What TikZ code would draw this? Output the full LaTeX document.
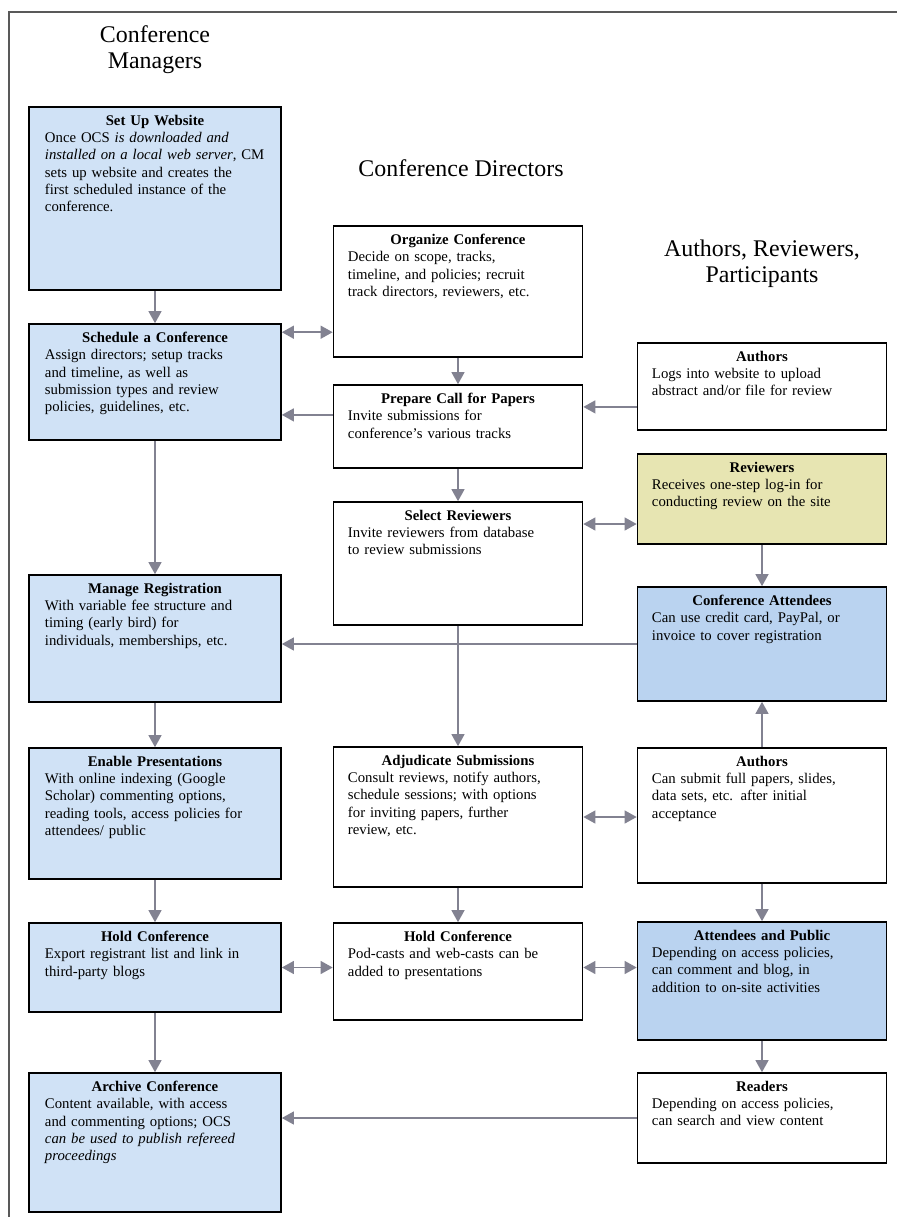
\documentclass[tikz,border=0pt]{standalone}
\usepackage{fontspec}
\setmainfont{Liberation Serif}
\usetikzlibrary{arrows.meta}

\definecolor{mgrblue}{RGB}{208,226,246}
\definecolor{attblue}{RGB}{186,211,240}
\definecolor{revyellow}{RGB}{231,229,178}
\definecolor{arrgray}{RGB}{130,130,145}
\newcommand{\boxhead}[1]{{\centering\bfseries #1\par}}

\begin{document}
\begin{tikzpicture}[x=0.025cm,y=-0.025cm,
  stagebox/.style={draw=black, line width=1.1pt, inner sep=0pt},
  mgr/.style={stagebox, fill=mgrblue, minimum width=6.3cm},
  dir/.style={stagebox, fill=white, minimum width=6.225cm},
  part/.style={stagebox, fill=white, minimum width=6.225cm},
  desc/.style={text width=5.5cm, align=left, anchor=north, inner sep=0pt,
    font=\fontsize{10.5}{12.2}\selectfont},
  head/.style={align=center, font=\fontsize{17}{18.5}\selectfont},
  arr/.style={-{Triangle[length=0.3cm,width=0.32cm]}, draw=arrgray, line width=1.3pt},
  darr/.style={{Triangle[length=0.3cm,width=0.32cm]}-{Triangle[length=0.3cm,width=0.32cm]},
    draw=arrgray, line width=1.3pt}]
\useasboundingbox (0,0) rectangle (897,1217);
\draw[black!65, line width=1pt] (9,1217) -- (9,12) -- (897,12);

% column heads
\node[head] (cmhead) at (155,50) {Conference\\Managers};
\node[head] (cdhead) at (461,168) {Conference Directors};
\node[head] (arhead) at (762,264) {Authors, Reviewers,\\Participants};

% conference managers
\node[mgr, minimum height=4.575cm] (setup) at (155,198.5) {};
\node[desc] (setup-t) at ([yshift=-0.22cm]setup.north) {\boxhead{Set Up Website}Once OCS \textit{is downloaded and\\installed on a local web server}, CM\\sets up website and creates the\\first scheduled instance of the\\conference.};
\node[mgr, minimum height=2.9cm] (sched) at (155,382) {};
\node[desc] (sched-t) at ([yshift=-0.22cm]sched.north) {\boxhead{Schedule a Conference}Assign directors; setup tracks\\and timeline, as well as\\submission types and review\\policies, guidelines, etc.};
\node[mgr, minimum height=3.175cm] (manage) at (155,638.5) {};
\node[desc] (manage-t) at ([yshift=-0.22cm]manage.north) {\boxhead{Manage Registration}With variable fee structure and\\timing (early bird) for\\individuals, memberships, etc.};
\node[mgr, minimum height=3.275cm] (enable) at (155,813.5) {};
\node[desc] (enable-t) at ([yshift=-0.22cm]enable.north) {\boxhead{Enable Presentations}With online indexing (Google\\Scholar) commenting options,\\reading tools, access policies for\\attendees/ public};
\node[mgr, minimum height=2.225cm] (holdl) at (155,967.5) {};
\node[desc] (holdl-t) at ([yshift=-0.22cm]holdl.north) {\boxhead{Hold Conference}Export registrant list and link in\\third-party blogs};
\node[mgr, minimum height=3.475cm] (archive) at (155,1142.5) {};
\node[desc] (archive-t) at ([yshift=-0.22cm]archive.north) {\boxhead{Archive Conference}Content available, with access\\and commenting options; OCS\\\textit{can be used to publish refereed\\proceedings}};

% conference directors
\node[dir, minimum height=3.275cm] (organize) at (458,291.5) {};
\node[desc] (organize-t) at ([yshift=-0.22cm]organize.north) {\boxhead{Organize Conference}Decide on scope, tracks,\\timeline, and policies; recruit\\track directors, reviewers, etc.};
\node[dir, minimum height=2.075cm] (prepare) at (458,426.5) {};
\node[desc] (prepare-t) at ([yshift=-0.22cm]prepare.north) {\boxhead{Prepare Call for Papers}Invite submissions for\\conference's various tracks};
\node[dir, minimum height=3.075cm] (select) at (458,563.5) {};
\node[desc] (select-t) at ([yshift=-0.22cm]select.north) {\boxhead{Select Reviewers}Invite reviewers from database\\to review submissions};
\node[dir, minimum height=3.5cm] (adjud) at (458,817) {};
\node[desc] (adjud-t) at ([yshift=-0.22cm]adjud.north) {\boxhead{Adjudicate Submissions}Consult reviews, notify authors,\\schedule sessions; with options\\for inviting papers, further\\review, etc.};
\node[dir, minimum height=2.425cm] (holdm) at (458,971.5) {};
\node[desc] (holdm-t) at ([yshift=-0.22cm]holdm.north) {\boxhead{Hold Conference}Pod-casts and web-casts can be\\added to presentations};

% authors, reviewers, participants
\node[part, minimum height=2.175cm] (authors) at (762,386.5) {};
\node[desc] (authors-t) at ([yshift=-0.22cm]authors.north) {\boxhead{Authors}Logs into website to upload\\abstract and/or file for review};
\node[part, fill=revyellow, minimum height=2.25cm] (review) at (762,499) {};
\node[desc] (review-t) at ([yshift=-0.22cm]review.north) {\boxhead{Reviewers}Receives one-step log-in for\\conducting review on the site};
\node[part, fill=attblue, minimum height=2.85cm] (attend) at (762,644) {};
\node[desc] (attend-t) at ([yshift=-0.22cm]attend.north) {\boxhead{Conference Attendees}Can use credit card, PayPal, or\\invoice to cover registration};
\node[part, minimum height=3.375cm] (submit) at (762,815.5) {};
\node[desc] (submit-t) at ([yshift=-0.22cm]submit.north) {\boxhead{Authors}Can submit full papers, slides,\\data sets, etc. after initial\\acceptance};
\node[part, fill=attblue, minimum height=2.95cm] (public) at (762,981) {};
\node[desc] (public-t) at ([yshift=-0.22cm]public.north) {\boxhead{Attendees and Public}Depending on access policies,\\can comment and blog, in\\addition to on-site activities};
\node[part, minimum height=2.25cm] (readers) at (762,1118) {};
\node[desc] (readers-t) at ([yshift=-0.22cm]readers.north) {\boxhead{Readers}Depending on access policies,\\can search and view content};

% managers column
\draw[arr] (setup) -- (sched);
\draw[arr] (sched) -- (manage);
\draw[arr] (manage) -- (enable);
\draw[arr] (enable) -- (holdl);
\draw[arr] (holdl) -- (archive);

% directors column
\draw[arr] (organize) -- (prepare);
\draw[arr] (prepare) -- (select);
\draw[arr] (select) -- (adjud);
\draw[arr] (adjud) -- (holdm);

% participants column
\draw[arr] (review) -- (attend);
\draw[arr] (submit) -- (attend);
\draw[arr] (submit) -- (public);
\draw[arr] (public) -- (readers);

% across
\draw[darr] ([yshift=-0.225cm]sched.north east) -- ([yshift=-0.225cm]sched.north east -| organize.west);
\draw[arr] ([yshift=0.29cm]prepare.west) -- ([yshift=0.29cm]prepare.west -| sched.east);
\draw[arr] ([yshift=-0.51cm]authors.west) -- ([yshift=-0.51cm]authors.west -| prepare.east);
\draw[darr] ([yshift=-0.625cm]review.west -| select.east) -- ([yshift=-0.625cm]review.west);
\draw[arr] (attend.west) -- (attend.west -| manage.east);
\draw[darr] (adjud.east) -- (adjud.east -| submit.west);
\draw[darr] (holdl.east) -- (holdl.east -| holdm.west);
\draw[darr] (holdl.east -| holdm.east) -- (holdl.east -| public.west);
\draw[arr] (readers.west) -- (readers.west -| archive.east);
\end{tikzpicture}
\end{document}
